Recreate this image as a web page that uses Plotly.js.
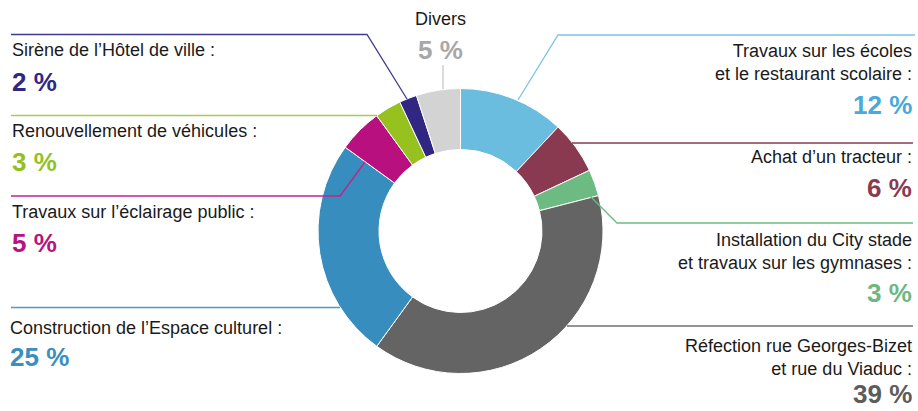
<!DOCTYPE html>
<html><head><meta charset="utf-8">
<script src="https://cdn.plot.ly/plotly-3.0.1.min.js"></script>
<style>html,body{margin:0;padding:0;background:#fff}#chart{width:918px;height:411px}</style>
</head><body><div id="chart"></div>
<script>
// Data
const categories = [
  "Travaux sur les écoles<br>et le restaurant scolaire :",
  "Achat d’un tracteur :",
  "Installation du City stade<br>et travaux sur les gymnases :",
  "Réfection rue Georges-Bizet<br>et rue du Viaduc :",
  "Construction de l’Espace culturel :",
  "Travaux sur l’éclairage public :",
  "Renouvellement de véhicules :",
  "Sirène de l’Hôtel de ville :",
  "Divers"
];
const values = [12, 6, 3, 39, 25, 5, 3, 2, 5];
const sliceColors = ["#6bbde0","#8a3a50","#6dbb83","#646464","#378dbd","#b8107f","#97c11f","#312783","#d3d3d3"];
const pctColors   = ["#4aa9db","#8a3a50","#6db882","#5c5c5c","#3a8fc0","#b5157f","#94c11f","#312783","#a8a8a8"];
const lineColors  = ["#7cc4e4","#8a3a50","#6dbb83","#707070","#4d9ac4","#c0248a","#a9cc4a","#3f3a8f","#c8c8c8"];

const W = 918, H = 411;
const px = x => x / W, py = y => 1 - y / H;

// Layout positions for each label (pixel space): [labelX, labelY, pctY, anchor]
const pos = [
  [914, 62, 105, "right"],
  [914, 157.5, 188, "right"],
  [914, 251, 293, "right"],
  [914, 357, 394, "right"],
  [8, 327.5, 357, "left"],
  [10, 211.5, 243, "left"],
  [10, 130.5, 162, "left"],
  [10, 50, 82, "left"],
  [440, 19, 49.5, "center"]
];
// Leader line polylines (pixel space)
const leaders = [
  [[518,100],[558,35],[915,35]],
  [[572,143],[913,143]],
  [[590,196],[617,223],[913,223]],
  [[567,326],[913,326]],
  [[340,307.5],[11,307.5]],
  [[365,162],[340,196],[11,196]],
  [[377,115.5],[11,115.5]],
  [[407,99],[367,34.5],[11,34.5]],
  [[443,89],[443,65]]
];

const labelFont = "Liberation Sans, Arial, sans-serif";
const annotations = [];
const shapes = [];
categories.forEach((c, i) => {
  const p = pos[i];
  annotations.push({xref:"paper", yref:"paper", x:px(p[0]), y:py(p[1]), xanchor:p[3], yanchor:"middle",
    text:c, showarrow:false, align:p[3], font:{family:labelFont, size:18, color:"#1a1a1a"}});
  annotations.push({xref:"paper", yref:"paper", x:px(p[0]), y:py(p[2]), xanchor:p[3], yanchor:"middle",
    text:"<b>" + values[i] + " %</b>", showarrow:false, font:{family:"Liberation Sans, Arial, sans-serif", size:26, color:pctColors[i]}});
  const pts = leaders[i];
  let d = "M" + pts.map(q => px(q[0]) + "," + py(q[1])).join(" L");
  shapes.push({type:"path", xref:"paper", yref:"paper", path:d, line:{color:lineColors[i], width:1.3}});
});

const trace = {
  type:"pie", values:values, labels:categories, sort:false, direction:"clockwise", rotation:0,
  hole:0.572, textinfo:"none", hoverinfo:"none",
  marker:{colors:sliceColors, line:{color:"#ffffff", width:1}},
  domain:{x:[318/W, 603/W], y:[1-373.5/H, 1-88.5/H]}
};

Plotly.newPlot("chart", [trace], {
  width:W, height:H, margin:{l:0,r:0,t:0,b:0}, showlegend:false,
  paper_bgcolor:"#ffffff", annotations:annotations, shapes:shapes
}, {displayModeBar:false, staticPlot:true});
</script></body></html>
